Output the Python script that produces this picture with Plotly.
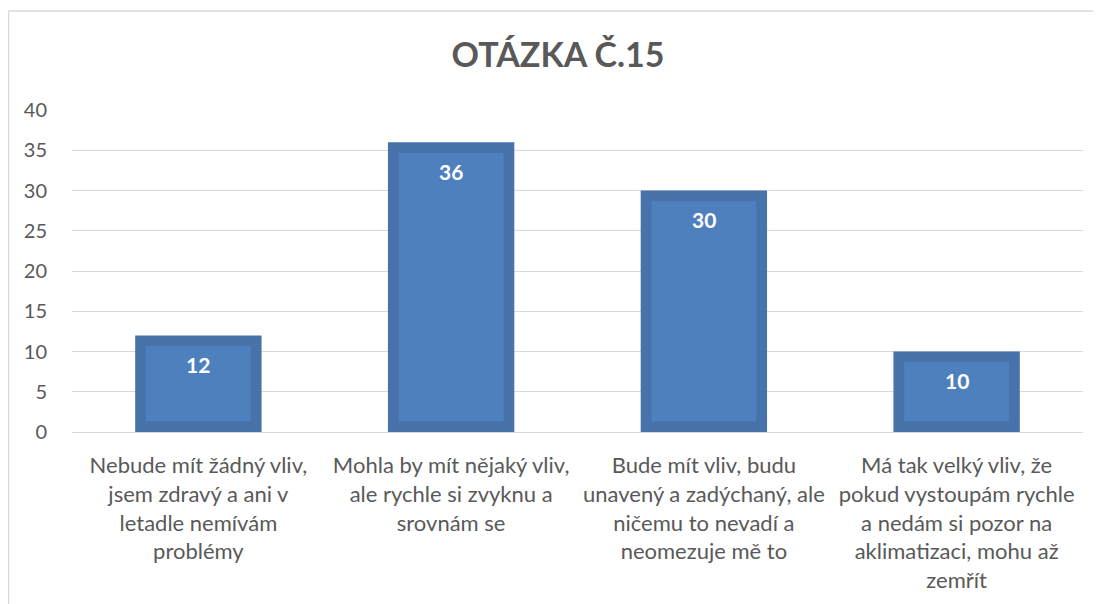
import plotly.graph_objects as go

categories = [
    "Nebude mít žádný vliv,<br>jsem zdravý a ani v<br>letadle nemívám<br>problémy",
    "Mohla by mít nějaký vliv,<br>ale rychle si zvyknu a<br>srovnám se",
    "Bude mít vliv, budu<br>unavený a zadýchaný, ale<br>ničemu to nevadí a<br>neomezuje mě to",
    "Má tak velký vliv, že<br>pokud vystoupám rychle<br>a nedám si pozor na<br>aklimatizaci, mohu až<br>zemřít",
]
values = [12, 36, 30, 10]
y_ticks = [0, 5, 10, 15, 20, 25, 30, 35, 40]
title_text = "OTÁZKA Č.15"

OUTER = "#4772AA"
INNER = "#4E80BE"
GRAY = "#595959"
FONT = "Lato"

inset = 1.35  # border thickness in axis units (style)

# page body has an 8px margin, so the figure is offset by (8, 8)
OFF = 8
W, H = 1101, 604
ml, mt = 72 - OFF, 110 - OFF
mr = W - (1083 - OFF)
mb = H - (432 - OFF)
pw, ph = W - ml - mr, H - mt - mb

fig = go.Figure()
fig.add_trace(go.Bar(x=categories, y=values, width=0.5,
                     marker=dict(color=OUTER, line=dict(width=0)),
                     hoverinfo="skip"))
fig.add_trace(go.Bar(x=categories, y=[v - 2 * inset for v in values],
                     base=[inset] * len(values), width=0.415,
                     marker=dict(color=INNER, line=dict(width=0)),
                     hoverinfo="skip"))

for c, v in zip(categories, values):
    fig.add_annotation(x=c, y=v, text=f"<b>{v}</b>", showarrow=False,
                       yshift=-29, font=dict(family=FONT, size=21, color="white"))

# chart border (top and left edges visible)
bx = (8 - OFF + 0.5 - ml) / pw
by = 1 + (mt - (11 - OFF)) / ph
fig.add_shape(type="line", xref="paper", yref="paper", x0=bx, x1=bx, y0=-1, y1=by,
              line=dict(color="#D9D9D9", width=1.5))
fig.add_shape(type="line", xref="paper", yref="paper", x0=bx, x1=2, y0=by, y1=by,
              line=dict(color="#D9D9D9", width=1.5))

fig.update_layout(
    width=W, height=H,
    margin=dict(l=ml, r=mr, t=mt, b=mb),
    barmode="overlay",
    bargap=0.5,
    paper_bgcolor="white", plot_bgcolor="white",
    showlegend=False,
    title=dict(text=f"<b>{title_text}</b>", x=(558 - OFF) / W, xanchor="center",
               y=1 - (55 - OFF) / H, yanchor="middle",
               font=dict(family=FONT, size=34, color=GRAY)),
    xaxis=dict(showgrid=False, showline=True, linecolor="#D9D9D9", linewidth=1,
               ticks="outside", ticklen=14, tickcolor="rgba(0,0,0,0)",
               tickfont=dict(family=FONT, size=22, color=GRAY)),
    yaxis=dict(range=[0, 40], tickvals=y_ticks, showgrid=True, gridcolor="#D9D9D9",
               gridwidth=1, zeroline=False, showline=False,
               ticks="outside", ticklen=20, tickcolor="rgba(0,0,0,0)",
               tickfont=dict(family=FONT, size=20, color=GRAY)),
)

fig.write_html("out.html")
